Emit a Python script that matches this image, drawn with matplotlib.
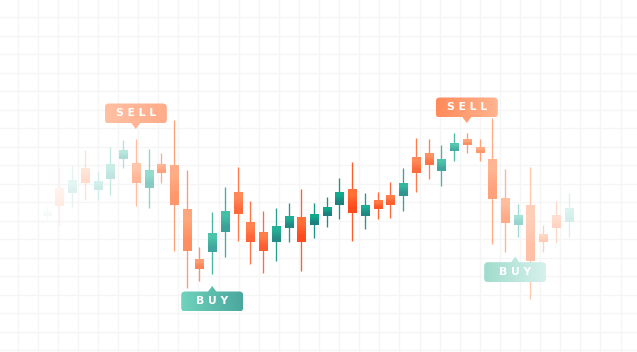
import matplotlib.pyplot as plt
import numpy as np
from matplotlib.colors import LinearSegmentedColormap, to_rgb
from matplotlib.patches import FancyBboxPatch, Polygon

# candle data (price units), one entry per candle
opens = [136.0, 164.0, 159.3, 184.0, 162.0, 173.3, 193.3, 189.3, 164.3, 188.0,
         186.0, 143.0, 93.0, 99.7, 120.3, 159.3, 129.3, 119.3, 110.3, 123.7,
         134.3, 126.5, 136.0, 147.0, 162.7, 136.0, 151.0, 157.0, 156.3, 195.3,
         199.0, 180.7, 201.3, 212.0, 204.7, 192.7, 154.3, 127.0, 147.0, 118.0,
         137.0, 130.3]
closes = [140.3, 146.3, 172.0, 169.3, 170.3, 188.0, 202.0, 169.3, 182.0, 179.3,
          146.7, 101.3, 83.0, 118.0, 141.0, 137.7, 110.3, 101.0, 126.0, 135.3,
          110.0, 137.0, 144.7, 159.3, 139.3, 146.7, 142.7, 147.0, 169.3, 179.3,
          187.3, 192.7, 208.7, 206.5, 198.7, 153.3, 129.3, 136.7, 91.3, 110.0,
          124.3, 143.7]
highs = [146.0, 185.3, 187.0, 202.0, 180.3, 204.7, 212.0, 212.7, 203.0, 198.7,
         232.0, 182.0, 105.3, 140.3, 165.3, 185.3, 151.3, 141.0, 144.3, 149.3,
         163.0, 149.3, 155.3, 174.3, 190.3, 159.3, 160.3, 170.3, 183.7, 214.3,
         213.0, 207.0, 219.0, 219.0, 212.7, 233.7, 183.3, 148.0, 185.3, 127.0,
         151.3, 159.3]
lows = [130.3, 126.0, 145.0, 152.0, 152.0, 157.0, 183.7, 146.0, 143.7, 169.3,
        101.3, 64.0, 71.0, 77.7, 95.3, 111.3, 87.7, 79.3, 91.3, 110.3,
        81.3, 114.0, 125.3, 132.7, 111.3, 123.3, 133.3, 134.3, 141.3, 160.3,
        173.3, 166.3, 191.3, 199.3, 190.7, 107.7, 100.3, 115.3, 52.7, 100.3,
        109.3, 115.3]

signal_text = ["SELL", "SELL", "BUY", "BUY"]
signal_index = [7, 33, 13, 36.8]
signal_price = [223.0, 229.0, 66.0, 95.3]

W, H = 637, 352
fig = plt.figure(figsize=(W / 100, H / 100), dpi=100)
fig.patch.set_facecolor("white")

# background axes in pixel units: grid and signal labels
bg = fig.add_axes([0, 0, 1, 1])
bg.set_xlim(0, W)
bg.set_ylim(0, H)
bg.axis("off")
for gx in np.arange(17.5, W, 20.1):
    bg.axvline(gx, color="#f5f5f5", lw=0.9, zorder=0)
for gy in np.arange(17, H, 18.5):
    bg.axhline(H - gy, color="#f5f5f5", lw=0.9, zorder=0)

# candle axes, x in candle index
ax = fig.add_axes([0, 0, 1, 1])
ax.patch.set_alpha(0)
ax.axis("off")

orange_top = LinearSegmentedColormap.from_list("ot", ["#ffffff", "#ffd9c8", "#ffa276", "#ff6a30"])
orange_bot = LinearSegmentedColormap.from_list("ob", ["#ffffff", "#ffcdb8", "#ff8a5a", "#ff4418"])
teal_top = LinearSegmentedColormap.from_list("tt", ["#ffffff", "#cdefe8", "#5ccab2", "#0fa98c"])
teal_bot = LinearSegmentedColormap.from_list("tb", ["#ffffff", "#c4e6e2", "#4ab0a6", "#1b7f7c"])

n = len(opens)
idx = np.arange(n)
fade = np.clip(1 - (np.abs(idx - 22) / 23.0) ** 1.4, 0.04, 1.0)
body_w = 0.63

for i in idx:
    o, c, hi, lo = opens[i], closes[i], highs[i], lows[i]
    up = c >= o
    t = fade[i]
    top_c = np.array(to_rgb((teal_top if up else orange_top)(t)))
    bot_c = np.array(to_rgb((teal_bot if up else orange_bot)(t)))
    ax.vlines(i, lo, hi, color=(top_c + bot_c) / 2, lw=0.95, zorder=1)
    grad = np.stack([top_c, bot_c])[:, None, :]
    ax.imshow(grad, extent=(i - body_w / 2, i + body_w / 2, min(o, c), max(o, c)),
              aspect="auto", interpolation="bilinear", zorder=2)

ax.set_xlim(-46.7 / 12.73, (W - 46.7) / 12.73)
ax.set_ylim(0, H)

# labels go on a top layer so they cover wicks
top = fig.add_axes([0, 0, 1, 1])
top.patch.set_alpha(0)
top.axis("off")

label_colors = {
    0: ("#ffc0a3", "#ffab88"),
    1: ("#ff8a5a", "#ffb48f"),
    2: ("#70d3bc", "#4aa79d"),
    3: ("#9fdccd", "#d6f1eb"),
}
box_w, box_h, tip_h, tip_hw = 62, 20, 5.5, 4.5
for k, (txt, si, sp) in enumerate(zip(signal_text, signal_index, signal_price)):
    tx, ty = ax.transData.transform((si, sp))
    sell = txt == "SELL"
    x0 = tx - box_w / 2
    y0 = ty + tip_h if sell else ty - tip_h - box_h
    c1, c2 = label_colors[k]
    box = FancyBboxPatch((x0, y0), box_w, box_h, boxstyle="round,pad=0,rounding_size=4",
                         facecolor="none", edgecolor="none", zorder=5)
    top.add_patch(box)
    grad = np.linspace(to_rgb(c1), to_rgb(c2), 60)[None, :, :]
    img = top.imshow(grad, extent=(x0, x0 + box_w, y0, y0 + box_h), aspect="auto",
                     interpolation="bilinear", zorder=5)
    img.set_clip_path(box)
    mid = np.array(to_rgb(c1)) * 0.5 + np.array(to_rgb(c2)) * 0.5
    if sell:
        tri = [(tx - tip_hw, y0 + 0.5), (tx + tip_hw, y0 + 0.5), (tx, ty)]
    else:
        tri = [(tx - tip_hw, y0 + box_h - 0.5), (tx + tip_hw, y0 + box_h - 0.5), (tx, ty)]
    top.add_patch(Polygon(tri, closed=True, facecolor=mid, edgecolor="none", zorder=5))
    top.text(tx, y0 + box_h / 2, " ".join(txt), color="white", fontsize=7.8,
             fontweight="bold", ha="center", va="center", zorder=6)

top.set_xlim(0, W)
top.set_ylim(0, H)

fig.savefig("out.png", dpi=100, facecolor="white")
